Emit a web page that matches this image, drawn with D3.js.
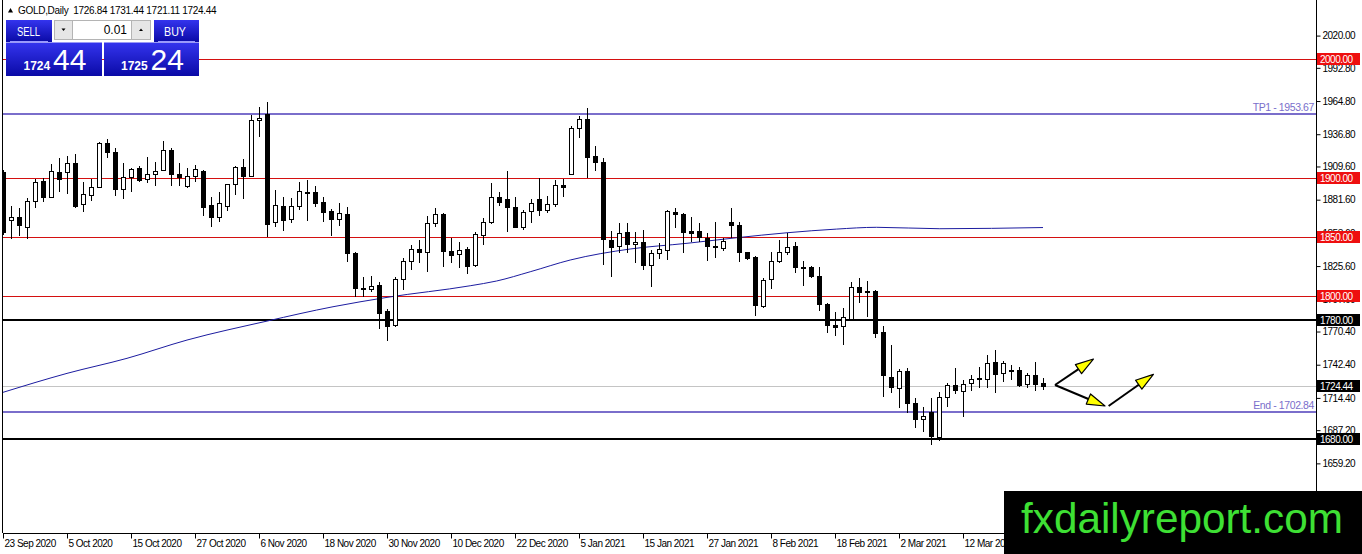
<!DOCTYPE html>
<html>
<head>
<meta charset="utf-8">
<script src="https://cdn.jsdelivr.net/npm/d3@7"></script>
<style>
  body { margin: 0; background: #fff; }
  svg { display: block; font-family: "Liberation Sans", Arial, sans-serif; }
  .axis text { font-family: "Liberation Sans", Arial, sans-serif; letter-spacing: -0.5px; }
</style>
</head>
<body>
<svg id="chart" width="1362" height="554"></svg>
<script>
// GOLD daily candles, 23 Sep 2020 .. 26 Mar 2021 (one value per bar)
const openP = [
  1905.2, 1863.8, 1867.0, 1858.8, 1879.9, 1897.3, 1884.1, 1904.9, 1904.7, 1912.5,
  1877.9, 1886.1, 1892.5, 1929.1, 1921.8, 1890.3, 1900.1, 1908.0, 1898.8, 1903.0,
  1906.3, 1923.2, 1903.2, 1892.5, 1901.5, 1905.8, 1876.8, 1866.7, 1876.5, 1894.5,
  1909.1, 1901.8, 1948.5, 1953.8, 1862.5, 1876.0, 1865.0, 1875.6, 1888.2, 1887.8,
  1879.4, 1872.0, 1865.3, 1869.5, 1836.3, 1806.8, 1806.5, 1809.6, 1787.9, 1775.3,
  1814.4, 1829.6, 1839.7, 1837.2, 1861.6, 1869.5, 1838.5, 1835.5, 1840.0, 1825.9,
  1852.4, 1863.0, 1884.1, 1882.1, 1875.6, 1858.8, 1871.4, 1881.9, 1872.3, 1877.7,
  1894.0, 1903.0, 1941.8, 1949.4, 1918.4, 1913.4, 1847.6, 1842.5, 1854.1, 1843.9,
  1846.1, 1825.9, 1836.3, 1838.5, 1871.2, 1869.7, 1855.2, 1855.2, 1849.0, 1842.5,
  1841.4, 1862.5, 1860.2, 1837.4, 1833.5, 1791.9, 1814.4, 1829.8, 1837.2, 1842.5,
  1824.5, 1824.5, 1817.4, 1793.3, 1775.9, 1775.0, 1781.5, 1808.2, 1804.5, 1804.5,
  1769.7, 1731.7, 1723.3, 1737.1, 1709.8, 1696.3, 1702.2, 1681.6, 1714.9, 1725.3,
  1720.4, 1726.7, 1730.3, 1730.1, 1744.9, 1735.1, 1737.9, 1737.9, 1725.8, 1733.4,
  1726.84
];
const highP = [
  1907.0, 1876.2, 1874.3, 1882.7, 1898.8, 1900.1, 1911.7, 1916.5, 1918.4, 1920.1,
  1896.7, 1898.8, 1930.5, 1932.8, 1924.9, 1912.3, 1908.0, 1910.0, 1917.3, 1913.6,
  1931.1, 1924.9, 1912.8, 1908.3, 1910.8, 1906.5, 1883.6, 1888.3, 1894.8, 1910.0,
  1915.9, 1953.0, 1959.5, 1964.2, 1889.7, 1884.1, 1882.7, 1896.5, 1898.2, 1893.1,
  1883.6, 1873.7, 1878.5, 1875.1, 1837.2, 1816.6, 1817.2, 1812.4, 1789.4, 1816.6,
  1832.1, 1843.3, 1847.6, 1867.8, 1874.3, 1870.0, 1849.0, 1846.1, 1841.9, 1854.1,
  1865.9, 1895.4, 1888.3, 1905.8, 1883.6, 1872.9, 1882.1, 1899.6, 1884.9, 1898.2,
  1899.0, 1943.7, 1952.2, 1958.6, 1926.8, 1916.5, 1855.4, 1862.2, 1861.6, 1854.6,
  1856.0, 1839.1, 1844.8, 1872.9, 1874.3, 1870.0, 1867.2, 1861.6, 1853.2, 1863.0,
  1849.0, 1874.3, 1863.0, 1837.8, 1834.0, 1815.3, 1837.7, 1847.6, 1853.7, 1846.1,
  1830.1, 1825.6, 1825.0, 1794.2, 1787.1, 1790.0, 1812.4, 1815.3, 1813.2, 1805.4,
  1775.0, 1759.0, 1738.5, 1739.8, 1714.0, 1706.9, 1714.0, 1719.6, 1726.7, 1739.3,
  1729.5, 1733.7, 1740.7, 1750.6, 1754.8, 1745.5, 1742.1, 1740.7, 1735.1, 1744.9,
  1731.44
];
const lowP = [
  1852.0, 1848.1, 1851.2, 1848.1, 1874.3, 1879.9, 1883.2, 1888.3, 1886.1, 1874.3,
  1871.4, 1880.7, 1892.5, 1917.0, 1884.7, 1881.9, 1888.3, 1896.7, 1895.4, 1893.1,
  1906.3, 1893.1, 1893.1, 1891.7, 1896.7, 1867.8, 1858.8, 1863.0, 1872.3, 1885.5,
  1881.9, 1901.0, 1934.7, 1850.3, 1858.8, 1855.4, 1861.6, 1872.9, 1863.8, 1875.6,
  1863.0, 1851.2, 1859.6, 1829.3, 1799.2, 1799.7, 1803.9, 1772.5, 1762.6, 1774.4,
  1805.4, 1822.3, 1827.9, 1820.8, 1858.8, 1824.5, 1827.9, 1823.7, 1818.9, 1825.0,
  1843.3, 1861.1, 1876.2, 1854.1, 1857.4, 1856.0, 1861.6, 1868.1, 1870.1, 1875.6,
  1884.1, 1902.4, 1933.3, 1899.6, 1906.0, 1826.5, 1816.1, 1836.3, 1836.3, 1827.9,
  1822.3, 1808.2, 1831.5, 1830.7, 1857.4, 1836.3, 1846.1, 1846.1, 1830.1, 1832.1,
  1838.5, 1849.0, 1828.7, 1830.7, 1783.5, 1790.0, 1806.0, 1827.9, 1834.9, 1820.0,
  1809.0, 1815.3, 1787.9, 1768.9, 1766.8, 1759.0, 1780.9, 1794.2, 1782.4, 1764.6,
  1715.4, 1718.2, 1705.6, 1701.4, 1688.7, 1685.9, 1674.6, 1678.0, 1707.0, 1717.7,
  1698.0, 1720.4, 1722.5, 1722.5, 1718.2, 1727.5, 1729.5, 1723.3, 1722.5, 1720.4,
  1721.11
];
const closeP = [
  1854.6, 1866.7, 1860.2, 1880.5, 1896.2, 1884.1, 1905.8, 1898.8, 1912.3, 1876.5,
  1886.1, 1892.5, 1929.4, 1921.5, 1890.3, 1900.4, 1907.2, 1897.6, 1903.0, 1905.8,
  1923.2, 1902.6, 1900.4, 1901.3, 1907.4, 1875.6, 1866.4, 1878.5, 1894.8, 1909.1,
  1901.8, 1948.8, 1950.2, 1861.1, 1876.8, 1863.8, 1876.0, 1888.6, 1887.8, 1878.5,
  1870.9, 1865.0, 1870.1, 1836.3, 1806.8, 1806.5, 1809.0, 1785.7, 1775.3, 1814.4,
  1829.6, 1839.7, 1837.2, 1861.6, 1869.2, 1838.5, 1835.5, 1838.9, 1825.9, 1852.4,
  1863.0, 1884.1, 1879.9, 1875.6, 1858.8, 1871.4, 1878.5, 1872.3, 1877.7, 1893.7,
  1892.5, 1941.8, 1949.4, 1917.3, 1913.1, 1848.1, 1841.9, 1853.2, 1843.9, 1845.9,
  1826.5, 1836.3, 1839.7, 1871.8, 1869.2, 1854.6, 1853.5, 1850.3, 1841.9, 1841.4,
  1847.0, 1859.6, 1837.2, 1832.6, 1792.7, 1813.8, 1829.8, 1837.2, 1841.4, 1824.5,
  1823.4, 1816.6, 1794.2, 1775.9, 1774.4, 1782.9, 1808.2, 1803.9, 1803.4, 1768.9,
  1733.7, 1723.0, 1737.3, 1709.8, 1696.3, 1699.1, 1681.6, 1715.4, 1725.3, 1721.0,
  1726.1, 1730.3, 1730.9, 1743.6, 1735.1, 1743.6, 1737.1, 1725.3, 1733.4, 1725.8,
  1724.44
];

const dateLabels = [
  '23 Sep 2020', '5 Oct 2020', '15 Oct 2020', '27 Oct 2020', '6 Nov 2020',
  '18 Nov 2020', '30 Nov 2020', '10 Dec 2020', '22 Dec 2020', '5 Jan 2021',
  '15 Jan 2021', '27 Jan 2021', '8 Feb 2021', '18 Feb 2021', '2 Mar 2021',
  '12 Mar 2021'
];
const dateTickBars = [0, 8, 16, 24, 32, 40, 48, 56, 64, 72, 80, 88, 96, 104, 112, 120];

const priceTicks = [2020.00, 1992.80, 1964.80, 1936.80, 1909.60, 1881.60, 1853.60,
  1825.60, 1797.60, 1770.40, 1742.40, 1714.40, 1687.20, 1659.20];

// moving average, read at a few bars
const maBars = [0, 8, 15.5, 23, 33, 41.25, 48, 58.4, 61.7, 65.9, 70.9, 78.4, 85.5,
  91.7, 98, 104.2, 109.2, 117.1, 130];
const maValues = [1719.1, 1735.1, 1747.8, 1763.2, 1779.2, 1791.3, 1799.2, 1809.0,
  1813.0, 1820.8, 1830.7, 1840.0, 1844.8, 1849.5, 1853.7, 1856.8, 1858.3, 1857.1, 1858.1];

const redLevels = [2000, 1900, 1850, 1800];
const blackLevels = [1780, 1680];
const targetLevels = [1953.67, 1702.84];
const targetNames = ['TP1', 'End'];
const lastPrice = 1724.44;

// projection arrows: [bar, price]
const arrowStart = [[131.5, 1725.3], [131.5, 1725.3], [138.2, 1707.6]];
const arrowEnd = [[136.3, 1747.2], [137.75, 1707.6], [143.8, 1734.3]];

const symbolTitle = 'GOLD,Daily';
const quoteText = '1726.84 1731.44 1721.11 1724.44';
const bidText = ['1724', '44'];
const askText = ['1725', '24'];
const lotText = '0.01';

/*
 * Layout
 */
const W = 1362, H = 554;
const plotLeft = 3, plotRight = 1316, plotBottom = 533;

const svg = d3.select('#chart');

const x = d3.scaleLinear()
  .domain([0, (plotRight - plotLeft) / 8])
  .range([plotLeft, plotRight]);

const y = d3.scaleLinear()
  .domain([1680, 2000])
  .range([438.7, 59.3]);

const defs = svg.append('defs');
defs.append('clipPath').attr('id', 'plot-clip')
  .append('rect')
  .attr('x', plotLeft).attr('y', 0)
  .attr('width', plotRight - plotLeft).attr('height', plotBottom);

const grad = defs.append('linearGradient')
  .attr('id', 'btn-blue').attr('x1', 0).attr('y1', 0).attr('x2', 0).attr('y2', 1);
grad.append('stop').attr('offset', '0%').attr('stop-color', '#3434ee');
grad.append('stop').attr('offset', '100%').attr('stop-color', '#0a0aa6');

const plot = svg.append('g').attr('clip-path', 'url(#plot-clip)');

// horizontal levels
function hline(level, color, width) {
  let py = Math.round(y(level)) + (width % 2 ? 0.5 : 0);
  plot.append('line')
    .attr('x1', plotLeft).attr('x2', plotRight)
    .attr('y1', py).attr('y2', py)
    .attr('stroke', color).attr('stroke-width', width)
    .attr('shape-rendering', 'crispEdges');
}
hline(lastPrice, '#c4c4c4', 1);
redLevels.forEach(l => hline(l, '#d41010', 1));
targetLevels.forEach(l => hline(l, '#7a6ecb', 2));
blackLevels.forEach(l => hline(l, '#000', 2));

// moving average
const maLine = d3.line()
  .curve(d3.curveMonotoneX)
  .x(d => x(d[0]))
  .y(d => y(d[1]));
plot.append('path')
  .datum(d3.zip(maBars, maValues))
  .attr('d', maLine)
  .attr('fill', 'none')
  .attr('stroke', '#1c1ca0')
  .attr('stroke-width', 1);

// candles
const bars = d3.range(openP.length);
const candle = plot.append('g').attr('shape-rendering', 'crispEdges')
  .selectAll('g').data(bars).join('g');

candle.append('line')
  .attr('x1', i => Math.round(x(i)) + 0.5)
  .attr('x2', i => Math.round(x(i)) + 0.5)
  .attr('y1', i => y(highP[i]))
  .attr('y2', i => y(lowP[i]))
  .attr('stroke', '#000');

candle.append('rect')
  .attr('x', i => Math.round(x(i)) - 1.5)
  .attr('width', 4)
  .attr('y', i => Math.round(y(Math.max(openP[i], closeP[i]))) + 0.5)
  .attr('height', i => Math.max(1, Math.round(Math.abs(y(openP[i]) - y(closeP[i])))))
  .attr('fill', i => closeP[i] >= openP[i] ? '#fff' : '#000')
  .attr('stroke', '#000');

// target labels
targetLevels.forEach((l, k) => {
  svg.append('text')
    .attr('x', plotRight - 2)
    .attr('y', y(l) - 3)
    .attr('text-anchor', 'end')
    .attr('font-size', 10.5)
    .style('letter-spacing', '-0.4px')
    .attr('fill', '#7a6ecb')
    .text(targetNames[k] + ' - ' + d3.format('.2f')(l));
});

// arrows
const arrows = svg.append('g');
arrowStart.forEach((s, k) => {
  let e = arrowEnd[k];
  let x0 = x(s[0]), y0 = y(s[1]), x1 = x(e[0]), y1 = y(e[1]);
  let ang = Math.atan2(y1 - y0, x1 - x0);
  let headLen = 18, headW = 5.5;
  let bx = x1 - headLen * Math.cos(ang), by = y1 - headLen * Math.sin(ang);
  arrows.append('line')
    .attr('x1', x0).attr('y1', y0).attr('x2', bx).attr('y2', by)
    .attr('stroke', '#000').attr('stroke-width', 2);
  let pts = [
    [x1, y1],
    [bx + headW * Math.sin(ang), by - headW * Math.cos(ang)],
    [bx - headW * Math.sin(ang), by + headW * Math.cos(ang)]
  ];
  arrows.append('polygon')
    .attr('points', pts.map(p => p.join(',')).join(' '))
    .attr('fill', '#ffff00')
    .attr('stroke', '#000')
    .attr('stroke-width', 1.2)
    .attr('stroke-linejoin', 'round');
});

// frame
svg.append('line')
  .attr('x1', plotLeft - 0.5).attr('x2', plotLeft - 0.5)
  .attr('y1', 0).attr('y2', plotBottom)
  .attr('stroke', '#000').attr('shape-rendering', 'crispEdges');
svg.append('line')
  .attr('x1', plotRight + 0.5).attr('x2', plotRight + 0.5)
  .attr('y1', 0).attr('y2', plotBottom + 0.5)
  .attr('stroke', '#000').attr('shape-rendering', 'crispEdges');
svg.append('line')
  .attr('x1', plotLeft - 0.5).attr('x2', plotRight + 0.5)
  .attr('y1', plotBottom + 0.5).attr('y2', plotBottom + 0.5)
  .attr('stroke', '#000').attr('shape-rendering', 'crispEdges');

// price axis
const yAxis = svg.append('g')
  .attr('class', 'axis')
  .attr('transform', 'translate(' + (plotRight + 0.5) + ',0)')
  .call(d3.axisRight(y)
    .tickValues(priceTicks)
    .tickSize(4)
    .tickPadding(2)
    .tickFormat(d3.format('.2f')));
yAxis.select('.domain').remove();
yAxis.selectAll('text').attr('font-size', 10).attr('fill', '#000');

// date axis
const xAxis = svg.append('g')
  .attr('class', 'axis')
  .attr('transform', 'translate(0,' + (plotBottom + 0.5) + ')')
  .call(d3.axisBottom(x)
    .tickValues(dateTickBars)
    .tickSize(5)
    .tickPadding(1)
    .tickFormat((d, i) => dateLabels[i]));
xAxis.select('.domain').remove();
xAxis.selectAll('text')
  .attr('text-anchor', 'start')
  .attr('x', 1)
  .attr('font-size', 10)
  .attr('fill', '#000');

// price boxes on the axis
function priceBox(level, color) {
  let py = y(level);
  let g = svg.append('g');
  g.append('rect')
    .attr('x', plotRight + 1).attr('y', Math.round(py) - 6)
    .attr('width', 43).attr('height', 12)
    .attr('fill', color);
  g.append('text')
    .attr('x', plotRight + 4).attr('y', Math.round(py) + 4)
    .attr('font-size', 10)
    .style('letter-spacing', '-0.5px')
    .attr('fill', '#fff')
    .text(d3.format('.2f')(level));
}
redLevels.forEach(l => priceBox(l, '#ee0f0f'));
blackLevels.forEach(l => priceBox(l, '#000'));
priceBox(lastPrice, '#000');

// header
svg.append('path')
  .attr('d', 'M8,12.5 L10.5,8 L13,12.5 Z')
  .attr('fill', '#000');
svg.append('text')
  .attr('x', 18).attr('y', 14)
  .attr('font-size', 10)
  .style('letter-spacing', '-0.3px')
  .style('white-space', 'pre')
  .attr('fill', '#000')
  .text(symbolTitle + '  ' + quoteText);

// trade panel
const panel = svg.append('g');
panel.append('rect').attr('x', 52).attr('y', 18).attr('width', 102).attr('height', 24).attr('fill', '#fff');
panel.append('rect').attr('x', 6).attr('y', 20).attr('width', 46).attr('height', 22).attr('fill', 'url(#btn-blue)');
panel.append('rect').attr('x', 154).attr('y', 20).attr('width', 45).attr('height', 22).attr('fill', 'url(#btn-blue)');
panel.append('rect').attr('x', 6).attr('y', 42.5).attr('width', 96).attr('height', 33.5).attr('fill', 'url(#btn-blue)');
panel.append('rect').attr('x', 104).attr('y', 42.5).attr('width', 95).attr('height', 33.5).attr('fill', 'url(#btn-blue)');
panel.append('line').attr('x1', 10).attr('x2', 48).attr('y1', 41.5).attr('y2', 41.5).attr('stroke', '#9a9aff');
panel.append('line').attr('x1', 158).attr('x2', 195).attr('y1', 41.5).attr('y2', 41.5).attr('stroke', '#9a9aff');

panel.append('text').attr('x', 28.5).attr('y', 35.5).attr('text-anchor', 'middle')
  .attr('font-size', 12.5).attr('fill', '#fff')
  .attr('textLength', 23).attr('lengthAdjust', 'spacingAndGlyphs').text('SELL');
panel.append('text').attr('x', 175).attr('y', 35.5).attr('text-anchor', 'middle')
  .attr('font-size', 12.5).attr('fill', '#fff')
  .attr('textLength', 22).attr('lengthAdjust', 'spacingAndGlyphs').text('BUY');

// spinner
panel.append('rect').attr('x', 54.5).attr('y', 20.5).attr('width', 18).attr('height', 19)
  .attr('fill', '#e6e6e6').attr('stroke', '#b4b4b4');
panel.append('rect').attr('x', 72.5).attr('y', 20.5).attr('width', 59).attr('height', 19)
  .attr('fill', '#fff').attr('stroke', '#b4b4b4');
panel.append('rect').attr('x', 131.5).attr('y', 20.5).attr('width', 19).attr('height', 19)
  .attr('fill', '#e6e6e6').attr('stroke', '#b4b4b4');
panel.append('path').attr('d', 'M61.5,28.5 L65.5,28.5 L63.5,31 Z').attr('fill', '#000');
panel.append('path').attr('d', 'M139,31 L143,31 L141,28.5 Z').attr('fill', '#000');
panel.append('text').attr('x', 127).attr('y', 34).attr('text-anchor', 'end')
  .attr('font-size', 12).attr('fill', '#000').text(lotText);

// bid / ask
function quote(xs, parts) {
  panel.append('text').attr('x', xs).attr('y', 70)
    .attr('font-size', 12).attr('font-weight', 'bold').attr('fill', '#fff')
    .text(parts[0]);
  panel.append('text').attr('x', xs + 29.5).attr('y', 70)
    .attr('font-size', 30).attr('fill', '#fff')
    .text(parts[1]);
}
quote(23.5, bidText);
quote(121, askText);

// watermark
svg.append('rect')
  .attr('x', 1004).attr('y', 491)
  .attr('width', W - 1004).attr('height', H - 491)
  .attr('fill', '#000');
svg.append('text')
  .attr('x', 1021).attr('y', 533)
  .attr('font-size', 42.5)
  .attr('fill', '#3ee034')
  .attr('textLength', 322)
  .attr('lengthAdjust', 'spacingAndGlyphs')
  .text('fxdailyreport.com');
</script>
</body>
</html>
